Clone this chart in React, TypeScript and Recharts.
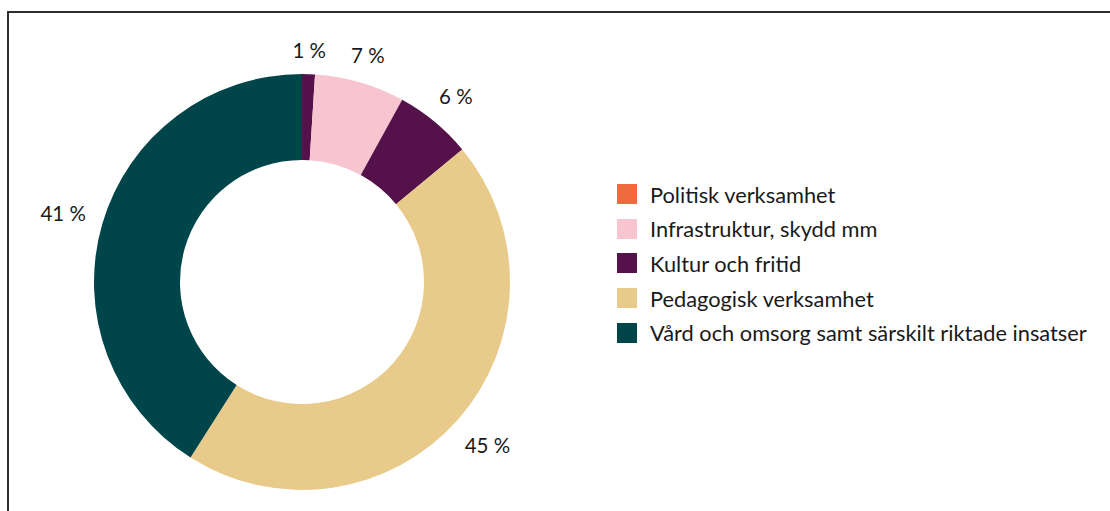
import { PieChart, Pie, Cell, Legend } from 'recharts'

const categories = [
  'Politisk verksamhet',
  'Infrastruktur, skydd mm',
  'Kultur och fritid',
  'Pedagogisk verksamhet',
  'Vård och omsorg samt särskilt riktade insatser',
]
const shares = [1, 7, 6, 45, 41]
// colours of the slices as drawn (the small first slice is drawn dark purple)
const sliceColors = ['#55124a', '#f6c5cf', '#55124a', '#e8ca8a', '#00454a']
const legendColors = ['#ef6b3f', '#f6c5cf', '#55124a', '#e8ca8a', '#00454a']

const FONT = 'Lato, "Noto Sans", sans-serif'
const RADIAN = Math.PI / 180

function renderLabel(props: any) {
  const { cx, cy, midAngle, outerRadius, value } = props
  const text = `${value} %`
  const ux = Math.cos(-midAngle * RADIAN)
  const uy = Math.sin(-midAngle * RADIAN)
  const w = text.length * 12 + 4
  const h = 20
  const d = outerRadius + 13 + (w / 2) * Math.abs(ux) + (h / 2) * Math.abs(uy)
  return (
    <text
      x={cx + d * ux}
      y={cy + d * uy}
      textAnchor="middle"
      dominantBaseline="central"
      fill="#1a1a1a"
      fontSize={20.5}
      fontFamily={FONT}
    >
      {text}
    </text>
  )
}

function LegendBox() {
  return (
    <div style={{ fontFamily: FONT, fontSize: 21.8, color: '#1a1a1a' }}>
      {categories.map((c, i) => (
        <div key={c} style={{ display: 'flex', alignItems: 'center', height: 34.6 }}>
          <span style={{ width: 20, height: 20, background: legendColors[i], marginRight: 13, flexShrink: 0 }} />
          <span style={{ whiteSpace: 'nowrap' }}>{c}</span>
        </div>
      ))}
    </div>
  )
}

export default function App() {
  const data = categories.map((name, i) => ({ name, value: shares[i] }))

  return (
    <div style={{ position: 'absolute', left: 0, top: 0, width: 1110, height: 511, overflow: 'hidden', background: '#fff' }}>
      <div
        style={{
          position: 'absolute',
          left: 7,
          top: 11,
          width: 1200,
          height: 600,
          border: '2px solid #2e2e2e',
        }}
      />
      <div style={{ position: 'absolute', left: 0, top: 0 }}>
        <PieChart width={1110} height={511} margin={{ top: 0, right: 0, bottom: 0, left: 0 }}>
          <Pie
            data={data}
            dataKey="value"
            nameKey="name"
            cx={302}
            cy={282}
            innerRadius={122}
            outerRadius={208}
            startAngle={90}
            endAngle={-270}
            stroke="none"
            label={renderLabel}
            labelLine={false}
            isAnimationActive={false}
          >
            {data.map((d, i) => (
              <Cell key={d.name} fill={sliceColors[i]} />
            ))}
          </Pie>
          <Legend content={<LegendBox />} wrapperStyle={{ left: 617, top: 177, width: 490 }} />
        </PieChart>
      </div>
    </div>
  )
}
